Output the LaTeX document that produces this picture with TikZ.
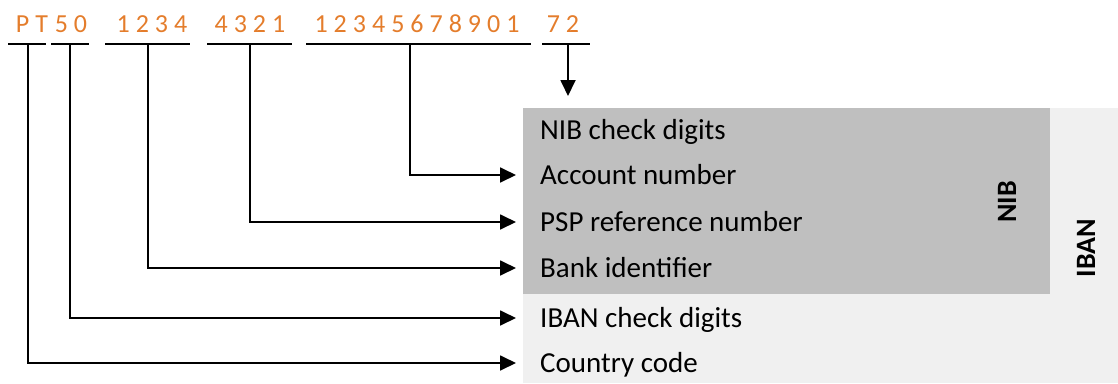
\documentclass[tikz,border=0pt]{standalone}
\usepackage{fontspec}
\setmainfont{Carlito}
\usetikzlibrary{arrows.meta}
\definecolor{ora}{RGB}{228,125,44}
\definecolor{nibgray}{RGB}{191,191,191}
\definecolor{ibangray}{RGB}{240,240,240}
\newcommand\K{\kern6pt}
\begin{document}
\begin{tikzpicture}[x=1pt,y=-1pt,
  digits/.style={text=ora, font=\fontsize{26}{30}\selectfont, inner sep=0pt, anchor=base},
  lbl/.style={anchor=west, inner xsep=24pt, inner ysep=0pt, text height=18pt, text depth=0pt, font=\fontsize{29}{34}\selectfont},
  conn/.style={line width=1.8pt, -{Triangle[length=16pt,width=15pt]}},
  uline/.style={line width=1.8pt},
  vlab/.style={rotate=90, inner sep=0pt, font=\bfseries\fontsize{28}{32}\selectfont}]
\useasboundingbox (0,0) rectangle (1118,383);
% backgrounds
\fill[ibangray] (523,108) rectangle (1118,383);
\fill[nibgray] (523,108) rectangle (1050,294);
% labels
\node[lbl] (nibcd) at (516,130) {NIB check digits};
\node[lbl] (acc)   at (516,175) {Account number};
\node[lbl] (psp)   at (516,222) {PSP reference number};
\node[lbl] (bank)  at (516,268) {Bank identifier};
\node[lbl] (ibcd)  at (516,318) {IBAN check digits};
\node[lbl] (cc)    at (516,363) {Country code};
\node[vlab] (nib)  at (1007,202) {NIB};
\node[vlab] (iban) at (1086,248) {IBAN};
% digits
\node[digits] (dpt)  at (32,32)  {P\K T};
\node[digits] (d50)  at (71,32)  {5\K 0};
\node[digits] (dbk)  at (152,32) {1\K 2\K 3\K 4};
\node[digits] (dpsp) at (250,32) {4\K 3\K 2\K 1};
\node[digits] (dacc) at (417,32) {1\K 2\K 3\K 4\K 5\K 6\K 7\K 8\K 9\K 0\K 1};
\node[digits] (dnib) at (563,32) {7\K 2};
% underlines
\draw[uline] (8,44) -- (46,44);
\draw[uline] (51,44) -- (89,44);
\draw[uline] (105,44) -- (190,44);
\draw[uline] (207,44) -- (292,44);
\draw[uline] (306,44) -- (531,44);
\draw[uline] (542,44) -- (590,44);
\coordinate (mpt)  at (28,44);
\coordinate (m50)  at (70,44);
\coordinate (mbk)  at (148,44);
\coordinate (mpsp) at (250,44);
\coordinate (macc) at (410,44);
\coordinate (mnib) at (568,44);
\coordinate (nibtop) at (568,96);
% connectors
\draw[conn] (mpt)  |- (cc.west);
\draw[conn] (m50)  |- (ibcd.west);
\draw[conn] (mbk)  |- (bank.west);
\draw[conn] (mpsp) |- (psp.west);
\draw[conn] (macc) |- (acc.west);
\draw[conn] (mnib) -- (nibtop);
\end{tikzpicture}
\end{document}
